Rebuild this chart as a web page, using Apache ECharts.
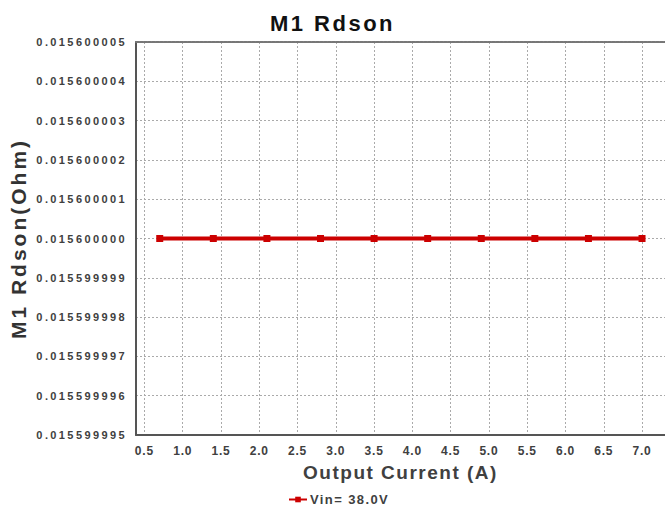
<!DOCTYPE html>
<html>
<head>
<meta charset="utf-8">
<script src="https://cdn.jsdelivr.net/npm/echarts@6/dist/echarts.min.js"></script>
<style>
  html, body { margin: 0; padding: 0; background: #fff; }
  #chart { width: 665px; height: 511px; }
  #chart text[style*="22px"] { letter-spacing: 2.5px; }
  #chart text[style*="11px"] { letter-spacing: 2.4px; }
  #chart text[style*="12px"] { letter-spacing: 0.8px; }
  #chart text[style*="19px"] { letter-spacing: 1.5px; }
  #chart text[style*="21px"] { letter-spacing: 3px; }
  #chart text[style*="13px"] { letter-spacing: 1.4px; }
</style>
</head>
<body>
<div id="chart"></div>
<script>
const titleText = 'M1 Rdson';
const xAxisTitle = 'Output Current (A)';
const yAxisTitle = 'M1 Rdson(Ohm)';
const seriesName = 'Vin= 38.0V';
const outputCurrent = [0.7, 1.4, 2.1, 2.8, 3.5, 4.2, 4.9, 5.6, 6.3, 7.0];
const rdson = [0.0156, 0.0156, 0.0156, 0.0156, 0.0156, 0.0156, 0.0156, 0.0156, 0.0156, 0.0156];
const xTicks = [0.5, 1.0, 1.5, 2.0, 2.5, 3.0, 3.5, 4.0, 4.5, 5.0, 5.5, 6.0, 6.5, 7.0];
const yMin = 0.015599995;
const yMax = 0.015600005;
const yStep = 0.000000001;

const FONT = 'Liberation Sans, Arial, sans-serif';
const chart = echarts.init(document.getElementById('chart'), null, { renderer: 'svg' });
chart.setOption({
  animation: false,
  backgroundColor: '#fff',
  title: {
    text: titleText, left: 'center', top: 7,
    textStyle: { fontFamily: FONT, fontSize: 22, fontWeight: 'bold', color: '#111' }
  },
  grid: { left: 135, right: 0, top: 42, bottom: 76 },
  legend: {
    data: [seriesName], left: 283, top: 488,
    itemWidth: 18, itemHeight: 7, itemGap: 10,
    textStyle: { fontFamily: FONT, fontSize: 13, fontWeight: 'bold', color: '#404040', padding: [0, 0, 0, -2] }
  },
  xAxis: [{
    type: 'value', min: 0.39, max: 7.3, position: 'bottom',
    name: xAxisTitle, nameLocation: 'middle', nameGap: 28,
    nameTextStyle: { fontFamily: FONT, fontSize: 19, fontWeight: 'bold', color: '#404040' },
    axisLine: { show: true, lineStyle: { color: '#555', width: 2 } },
    axisTick: { show: false, customValues: xTicks },
    axisLabel: {
      customValues: xTicks, margin: 10,
      fontFamily: FONT, fontSize: 12, fontWeight: 'bold', color: '#404040',
      formatter: v => v.toFixed(1)
    },
    splitLine: { show: true, lineStyle: { color: '#aaa', type: [2, 2], width: 1 } }
  }, {
    type: 'value', min: 0.39, max: 7.3, position: 'top',
    axisLine: { show: true, lineStyle: { color: '#777', width: 2, type: [3, 1] } },
    axisTick: { show: false }, axisLabel: { show: false }, splitLine: { show: false }
  }],
  yAxis: {
    type: 'value', min: yMin, max: yMax, interval: yStep,
    name: yAxisTitle, nameLocation: 'middle', nameGap: 107,
    nameTextStyle: { fontFamily: FONT, fontSize: 21, fontWeight: 'bold', color: '#333' },
    axisLine: { show: true, lineStyle: { color: '#555', width: 2 } },
    axisTick: { show: false },
    axisLabel: {
      margin: 9, fontFamily: FONT, fontSize: 11, fontWeight: 'bold', color: '#404040',
      formatter: v => v.toFixed(9)
    },
    splitLine: { show: true, lineStyle: { color: '#aaa', type: [2, 2], width: 1 } }
  },
  series: [{
    name: seriesName, type: 'line', xAxisIndex: 0,
    data: outputCurrent.map((x, i) => [x, rdson[i]]),
    symbol: 'rect', symbolSize: 7,
    lineStyle: { color: '#cc0000', width: 4 },
    itemStyle: { color: '#cc0000' }
  }]
});
</script>
</body>
</html>
